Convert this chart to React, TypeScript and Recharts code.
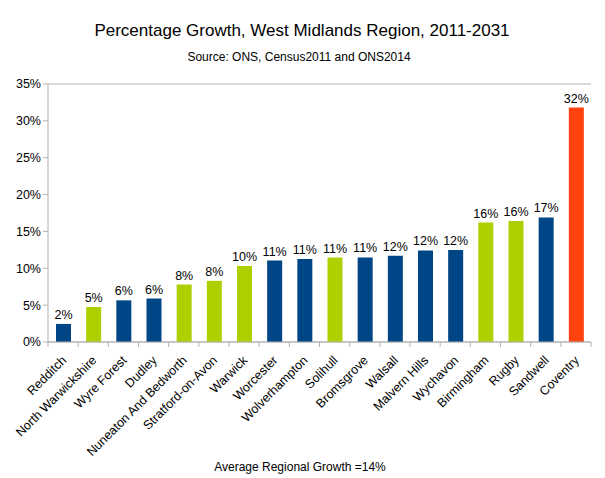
import React from "react";
import { BarChart, Bar, XAxis, YAxis, CartesianGrid, Cell, LabelList } from "recharts";

const categories = [
  "Redditch", "North Warwickshire", "Wyre Forest", "Dudley", "Nuneaton And Bedworth",
  "Stratford-on-Avon", "Warwick", "Worcester", "Wolverhampton", "Solihull", "Bromsgrove",
  "Walsall", "Malvern Hills", "Wychavon", "Birmingham", "Rugby", "Sandwell", "Coventry",
];
const growth = [2.45, 4.75, 5.65, 5.9, 7.8, 8.3, 10.3, 11.05, 11.25, 11.45, 11.48, 11.7, 12.42, 12.47, 16.2, 16.4, 16.9, 31.8];
const groups = ["b", "g", "b", "b", "g", "g", "g", "b", "b", "g", "b", "b", "b", "b", "g", "g", "b", "r"];
const yTicks = [0, 5, 10, 15, 20, 25, 30, 35];
const groupColors: Record<string, string> = { b: "#004586", g: "#aecf00", r: "#ff420e" };

const data = categories.map((name, i) => ({ name, value: growth[i], group: groups[i] }));

const FONT = "'Liberation Sans', Arial, sans-serif";

const XTick = (props: any) => {
  const { x, y, payload, index } = props;
  const half = payload && payload.offset ? payload.offset : 15;
  const axisY = y - 8;
  const last = index === categories.length - 1;
  return (
    <g>
      <line x1={x - half} x2={x - half} y1={axisY} y2={axisY + 5} stroke="#b3b3b3" />
      {last ? <line x1={x + half} x2={x + half} y1={axisY} y2={axisY + 5} stroke="#b3b3b3" /> : null}
      <text
        x={x + 4}
        y={y + 11}
        transform={`rotate(-45, ${x + 4}, ${y + 11})`}
        textAnchor="end"
        fontSize={12.5}
        fontFamily={FONT}
        fill="#000"
      >
        {payload.value}
      </text>
    </g>
  );
};

export default function App() {
  return (
    <div style={{ position: "absolute", left: 0, top: 0, width: 605, height: 478, background: "#fff" }}>
      <BarChart
        width={605}
        height={478}
        data={data}
        margin={{ top: 84, right: 14, left: 0, bottom: 0 }}
        barSize={15}
      >
        <CartesianGrid vertical={false} stroke="#b3b3b3" />
        <XAxis
          dataKey="name"
          interval={0}
          height={136}
          tick={<XTick />}
          tickLine={false}
          tickSize={6}
          tickMargin={2}
          axisLine={{ stroke: "#b3b3b3" }}
        />
        <YAxis
          yAxisId="left"
          width={48}
          domain={[0, 35]}
          ticks={yTicks}
          tickFormatter={(v: number) => `${v}%`}
          tick={{ fontSize: 12.5, fontFamily: FONT, fill: "#000" }}
          tickSize={5}
          tickLine={{ stroke: "#b3b3b3" }}
          axisLine={{ stroke: "#b3b3b3" }}
        />
        <YAxis
          yAxisId="right"
          orientation="right"
          width={0}
          domain={[0, 35]}
          tick={false}
          tickLine={false}
          axisLine={{ stroke: "#b3b3b3" }}
        />
        <Bar dataKey="value" yAxisId="left" isAnimationActive={false}>
          {data.map((d, i) => (
            <Cell key={i} fill={groupColors[d.group]} />
          ))}
          <LabelList
            dataKey="value"
            position="top"
            offset={5}
            formatter={(v: any) => `${Math.round(Number(v))}%`}
            style={{ fontSize: 12.5, fontFamily: FONT, fill: "#000" }}
          />
        </Bar>
      </BarChart>
      <svg width={605} height={478} style={{ position: "absolute", left: 0, top: 0, pointerEvents: "none" }}>
        <text x={302} y={36} textAnchor="middle" fontSize={17} fontFamily={FONT} fill="#000">
          Percentage Growth, West Midlands Region, 2011-2031
        </text>
        <text x={299} y={61} textAnchor="middle" fontSize={12} fontFamily={FONT} fill="#000">
          Source: ONS, Census2011 and ONS2014
        </text>
        <text x={300} y={471} textAnchor="middle" fontSize={12} fontFamily={FONT} fill="#000">
          Average Regional Growth =14%
        </text>
      </svg>
    </div>
  );
}
